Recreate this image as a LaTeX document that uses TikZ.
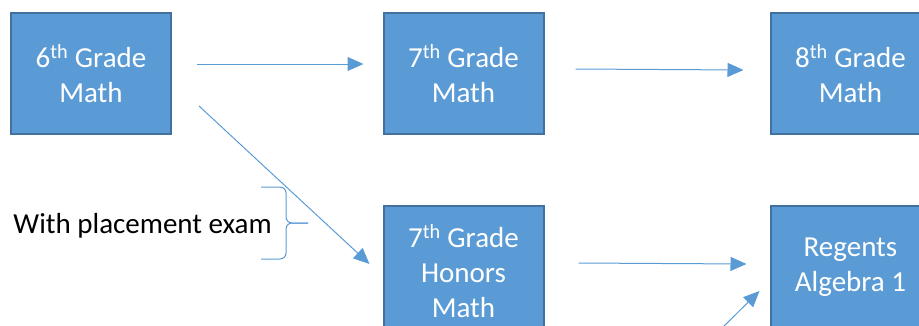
\documentclass[tikz,border=0pt]{standalone}
\usepackage{fontspec}
\setmainfont{Carlito}
\usepackage{tikz}
\usetikzlibrary{arrows.meta, calc}
\definecolor{boxFill}{RGB}{91,155,213}
\definecolor{boxEdge}{RGB}{65,113,156}

\begin{document}
\begin{tikzpicture}[x=1pt, y=-1pt,
    course/.style={rectangle, draw=boxEdge, line width=2pt, fill=boxFill, text=white, minimum width=160pt, minimum height=121pt, align=center, font=\fontsize{29}{35}\selectfont},
    arrow/.style={-{Triangle[length=16pt, width=14pt]}, line width=1pt, boxFill},
    bracket/.style={boxFill, line width=1pt, rounded corners=6pt},
    note/.style={font=\fontsize{29}{35}\selectfont, inner sep=0pt}
]
\useasboundingbox (0,0) rectangle (919,325);
\clip (0,0) rectangle (919,325);
\node[course] (six) at (91, 73.5) {6\textsuperscript{th} Grade\\ Math};
\node[course] (seven) at (463.5, 73.5) {7\textsuperscript{th} Grade\\ Math};
\node[course] (eight) at (850.5, 73.5) {8\textsuperscript{th} Grade\\ Math};
\node[course, minimum height=130pt] (honors) at (463.5, 271) {7\textsuperscript{th} Grade\\ Honors\\ Math};
\node[course, minimum height=123pt] (regents) at (850.5, 267.5) {Regents\\ Algebra 1};
\node[note, anchor=east] (exam) at (272, 226) {With placement exam};
\coordinate (braceTop) at ($(exam.east)+(-11,-39)$);
\coordinate (braceTip) at ($(exam.east)+(36,-3)$);
\coordinate (braceBot) at ($(exam.east)+(-11,33)$);
\coordinate (below) at (720, 330);
\draw[arrow] ($(six.east)+(25,-9.5)$) -- ($(seven.west)+(-19,-9.5)$);
\draw[arrow] ($(seven.east)+(31,-4.5)$) -- ($(eight.west)+(-26,-3.5)$);
\draw[arrow] ($(six.east)+(27,32.5)$) -- ($(honors.west)+(-13,-7)$);
\draw[arrow] ($(honors.east)+(34,-8)$) -- ($(regents.west)+(-23,-3.5)$);
\draw[arrow] (below) -- ($(regents.west)+(-10,23.5)$);
% brace beside the exam note
\draw[bracket] (braceTop) -- ++(25,0) |- (braceTip);
\draw[bracket] (braceTip) -| ($(braceBot)+(25,0)$) -- (braceBot);
\end{tikzpicture}
\end{document}
